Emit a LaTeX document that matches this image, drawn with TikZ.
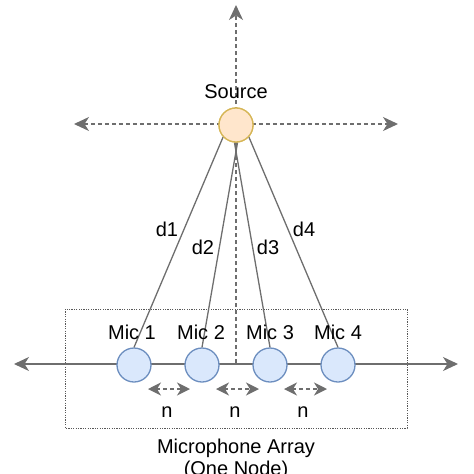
\documentclass[tikz,border=0pt]{standalone}
\usepackage{fontspec}
\setmainfont{Liberation Sans}
\usetikzlibrary{arrows.meta}
\definecolor{ln}{HTML}{6E6E6E}
\definecolor{srcfill}{HTML}{FFE6CC}
\definecolor{srcdraw}{HTML}{D6B656}
\definecolor{micfill}{HTML}{DAE8FC}
\definecolor{micdraw}{HTML}{6C8EBF}
\tikzset{
  every node/.style={font=\fontsize{20}{22}\selectfont},
  tipstyle/.style={-{Stealth[length=15pt,width=14pt,inset=4.5pt]}},
  dtipstyle/.style={{Stealth[length=15pt,width=14pt,inset=4.5pt]}-{Stealth[length=15pt,width=14pt,inset=4.5pt]}},
  stipstyle/.style={{Stealth[length=13pt,width=13pt,inset=4pt]}-{Stealth[length=13pt,width=13pt,inset=4pt]}},
  dashln/.style={draw=ln,line width=1.5pt,dash pattern=on 4pt off 3pt},
  solidln/.style={draw=ln,line width=1.3pt},
  srcnode/.style={circle,minimum size=34pt,inner sep=0pt,fill=srcfill,draw=srcdraw,line width=1.3pt},
  micnode/.style={circle,minimum size=34pt,inner sep=0pt,fill=micfill,draw=micdraw,line width=1.3pt},
  lbl/.style={inner sep=0pt,text=black},
  boxln/.style={draw=ln!80!black,line width=1pt,dash pattern=on 1.2pt off 1.2pt},
}
\begin{document}
\begin{tikzpicture}[x=1pt,y=-1pt]
\useasboundingbox (0,0) rectangle (474,474);
% free ends
\coordinate (up) at (236,5);
\coordinate (hl) at (74,124);
\coordinate (hr) at (398,124);
\coordinate (al) at (14,364);
\coordinate (ar) at (458,364);
\coordinate (vb) at (236,363);
% dotted array box
\draw[boxln] (65,309) rectangle (407,428);
% axes
\draw[dashln,tipstyle] (vb) -- (up);
\draw[dashln,dtipstyle] (hl) -- (hr);
\draw[solidln,dtipstyle] (al) -- (ar);
% nodes
\node[srcnode] (src) at (236,125) {};
\node[micnode] (m1) at (134,365) {};
\node[micnode] (m2) at (202,365) {};
\node[micnode] (m3) at (270,365) {};
\node[micnode] (m4) at (338,365) {};
% distance lines
\draw[solidln] (src.-137) -- (m1.north);
\draw[solidln] (src.-85) -- (m2.north);
\draw[solidln] (src.-95) -- (m3.north);
\draw[solidln] (src.-43) -- (m4.north);
\node[srcnode] at (src) {};
% labels
\node[lbl] (tsrc) at (236,92) {Source};
\node[lbl] (t1) at (132,332) {Mic 1};
\node[lbl] (t2) at (201,332) {Mic 2};
\node[lbl] (t3) at (270,332) {Mic 3};
\node[lbl] (t4) at (338,332) {Mic 4};
\node[lbl] (d1) at (167,229) {d1};
\node[lbl] (d2) at (203,247) {d2};
\node[lbl] (d3) at (268,247) {d3};
\node[lbl] (d4) at (304,229) {d4};
% spacing arrows
\coordinate (s1a) at (148,389); \coordinate (s1b) at (190,389);
\coordinate (s2a) at (216,389); \coordinate (s2b) at (259,389);
\coordinate (s3a) at (284,389); \coordinate (s3b) at (327,389);
\draw[dashln,stipstyle] (s1a) -- (s1b);
\draw[dashln,stipstyle] (s2a) -- (s2b);
\draw[dashln,stipstyle] (s3a) -- (s3b);
\node[lbl] (n1) at (167,412) {n};
\node[lbl] (n2) at (235,412) {n};
\node[lbl] (n3) at (303,412) {n};
\node[lbl,align=center,anchor=north] (arr) at (236,439) {Microphone Array\\(One Node)};
\end{tikzpicture}
\end{document}
